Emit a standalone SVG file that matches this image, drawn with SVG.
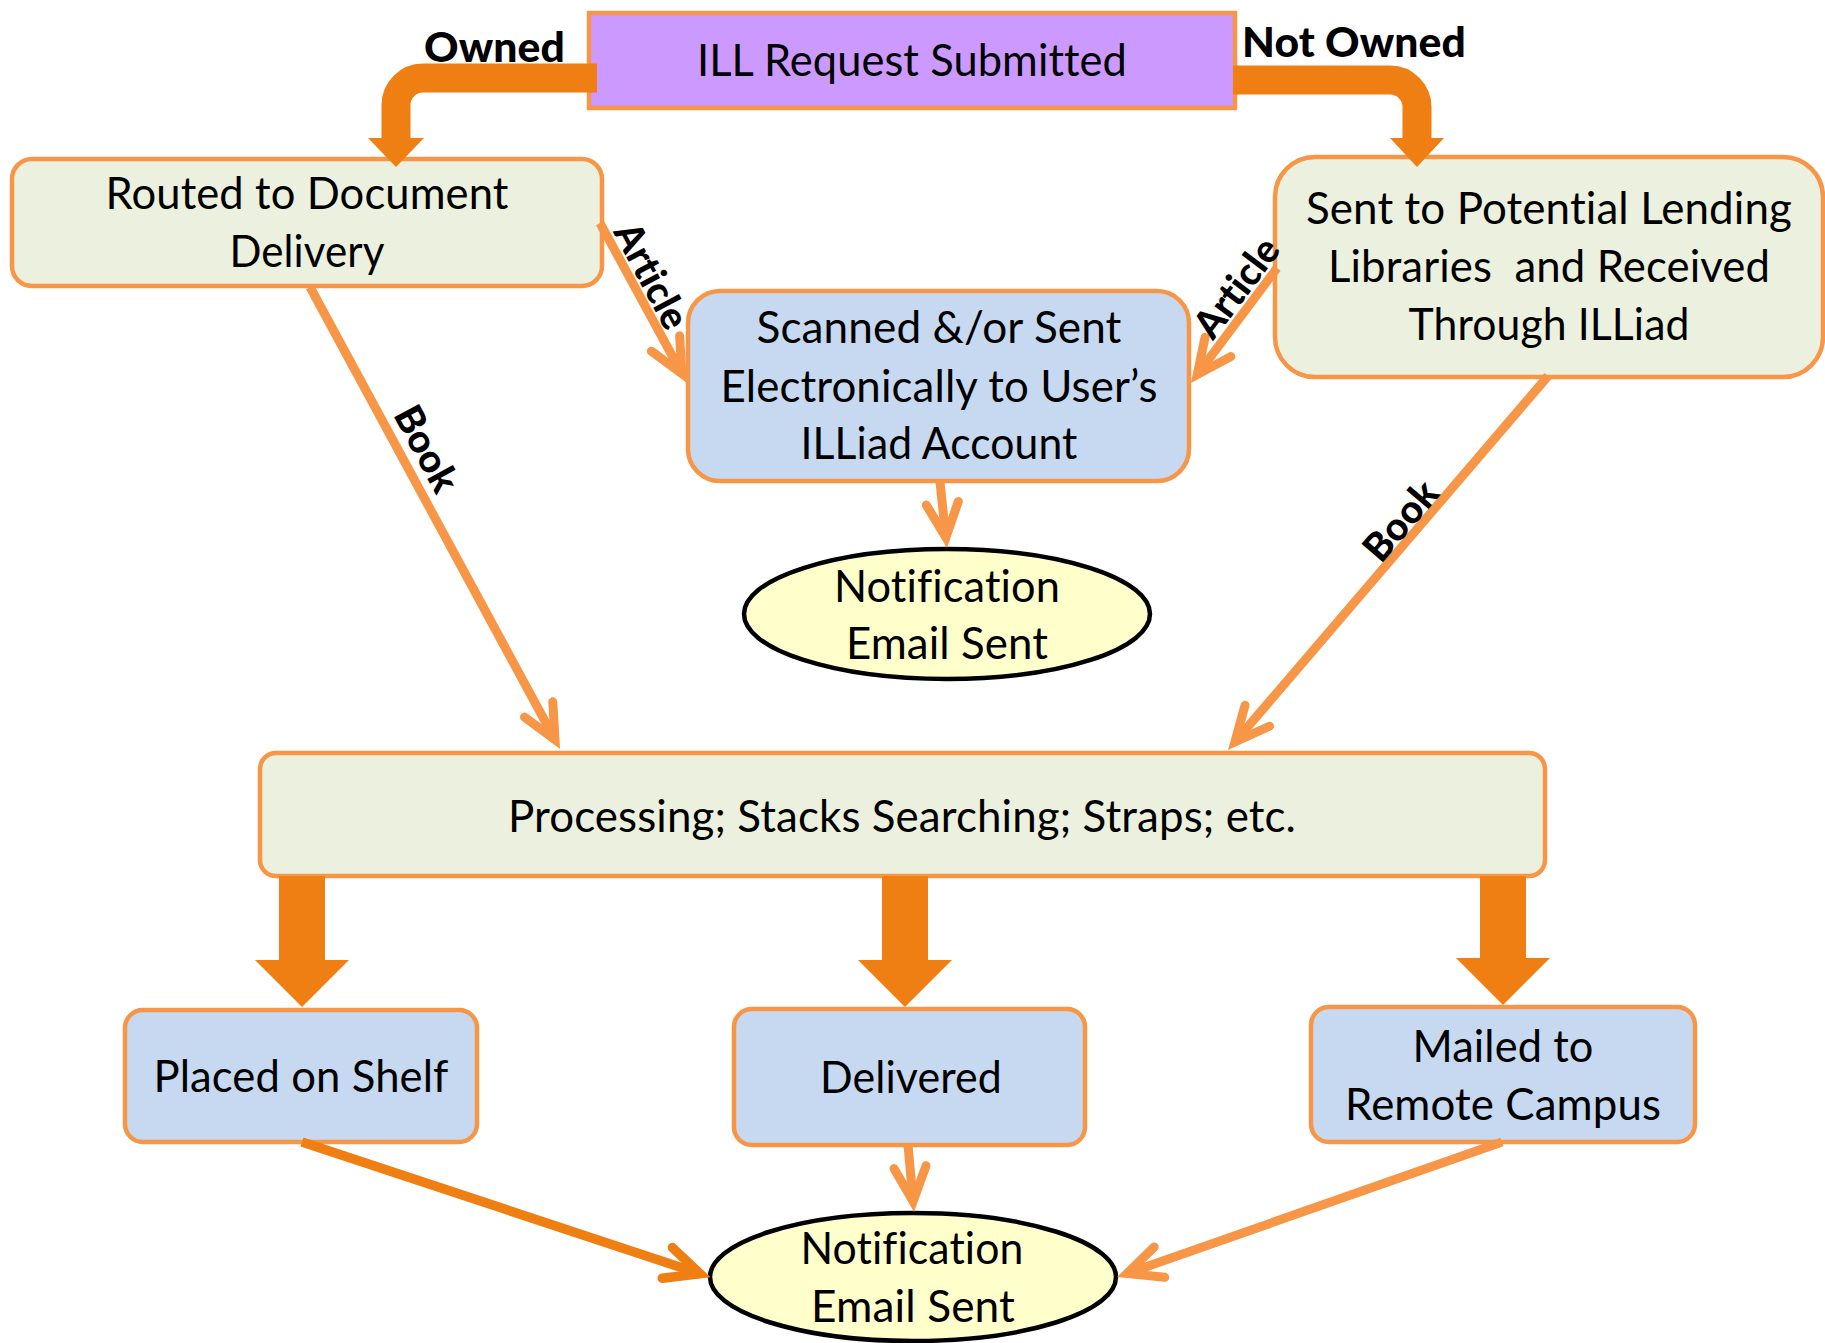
<svg xmlns="http://www.w3.org/2000/svg" width="1825" height="1343" viewBox="0 0 1825 1343">
  <style>
    .box { stroke: #F79646; stroke-width: 4.5; }
    .green { fill: #EBF1DE; }
    .blue { fill: #C6D9F1; }
    .purple { fill: #CC99FF; }
    .oval { fill: #FFFFCC; stroke: #000000; stroke-width: 4.5; }
    text { font-variant-ligatures: none; font-feature-settings: "liga" 0, "clig" 0, "dlig" 0, "calt" 0; letter-spacing: 0.1px; }
    .t { font-family: Lato, "Open Sans", "Liberation Sans", sans-serif; font-size: 44px; fill: #000000; text-anchor: middle; }
    .lbl { font-family: Lato, "Open Sans", "Liberation Sans", sans-serif; font-weight: 900; fill: #000000; }
    .thin { fill: none; stroke: #F79646; stroke-width: 9; stroke-linecap: butt; marker-end: url(#chev); }
    .thinDark { fill: none; stroke: #EF7F12; stroke-width: 9.5; stroke-linecap: butt; marker-end: url(#chevDark); }
    .fat { fill: none; stroke: #EF7F12; stroke-width: 29; stroke-linecap: butt; }
    .head { fill: #EF7F12; }
  </style>
  <defs>
    <marker id="chev" markerUnits="userSpaceOnUse" orient="auto" refX="0" refY="0" markerWidth="80" markerHeight="80" overflow="visible">
      <path d="M -34.4,-16.1 L 0,0 L -34.4,16.1" fill="none" stroke="#F79646" stroke-width="9" stroke-linecap="round" stroke-linejoin="miter"/>
    </marker>
    <marker id="chevDark" markerUnits="userSpaceOnUse" orient="auto" refX="0" refY="0" markerWidth="80" markerHeight="80" overflow="visible">
      <path d="M -34.4,-16.1 L 0,0 L -34.4,16.1" fill="none" stroke="#EF7F12" stroke-width="9.5" stroke-linecap="round" stroke-linejoin="miter"/>
    </marker>
  </defs>

  <rect width="1825" height="1343" fill="#FFFFFF"/>

  <!-- nodes -->
  <g id="node-request">
    <rect class="box purple" x="589" y="13" width="646" height="95"/>
    <text class="t" x="912" y="76" textLength="430" lengthAdjust="spacingAndGlyphs">ILL Request Submitted</text>
  </g>

  <g id="node-docdelivery">
    <rect class="box green" x="12" y="159" width="590" height="127" rx="20"/>
    <text class="t" x="307" y="209" textLength="403" lengthAdjust="spacingAndGlyphs">Routed to Document</text>
    <text class="t" x="307" y="267" textLength="155" lengthAdjust="spacingAndGlyphs">Delivery</text>
  </g>

  <g id="node-lending">
    <rect class="box green" x="1275" y="157" width="548" height="220" rx="40"/>
    <text class="t" x="1549" y="224" textLength="486" lengthAdjust="spacingAndGlyphs">Sent to Potential Lending</text>
    <text class="t" x="1549" y="282" textLength="442" lengthAdjust="spacingAndGlyphs" xml:space="preserve">Libraries  and Received</text>
    <text class="t" x="1549" y="340" textLength="281" lengthAdjust="spacingAndGlyphs">Through ILLiad</text>
  </g>

  <g id="node-scanned">
    <rect class="box blue" x="688" y="291" width="501" height="190" rx="32"/>
    <text class="t" x="939" y="343" textLength="365" lengthAdjust="spacingAndGlyphs">Scanned &amp;/or Sent</text>
    <text class="t" x="939" y="402" textLength="437" lengthAdjust="spacingAndGlyphs">Electronically to User’s</text>
    <text class="t" x="939" y="459" textLength="277" lengthAdjust="spacingAndGlyphs">ILLiad Account</text>
  </g>

  <g id="node-email-1">
    <ellipse class="oval" cx="947" cy="614" rx="203" ry="65"/>
    <text class="t" x="947" y="602" textLength="226" lengthAdjust="spacingAndGlyphs">Notification</text>
    <text class="t" x="947" y="659" textLength="202" lengthAdjust="spacingAndGlyphs">Email Sent</text>
  </g>

  <g id="node-processing">
    <rect class="box green" x="260" y="753" width="1285" height="123" rx="16"/>
    <text class="t" x="902" y="832" textLength="788" lengthAdjust="spacingAndGlyphs">Processing; Stacks Searching; Straps; etc.</text>
  </g>

  <g id="node-shelf">
    <rect class="box blue" x="125" y="1010" width="352" height="132" rx="18"/>
    <text class="t" x="301" y="1092" textLength="295" lengthAdjust="spacingAndGlyphs">Placed on Shelf</text>
  </g>

  <g id="node-delivered">
    <rect class="box blue" x="734" y="1009" width="351" height="136" rx="18"/>
    <text class="t" x="911" y="1093" textLength="182" lengthAdjust="spacingAndGlyphs">Delivered</text>
  </g>

  <g id="node-mailed">
    <rect class="box blue" x="1311" y="1007" width="384" height="135" rx="18"/>
    <text class="t" x="1503" y="1062" textLength="181" lengthAdjust="spacingAndGlyphs">Mailed to</text>
    <text class="t" x="1503" y="1120" textLength="316" lengthAdjust="spacingAndGlyphs">Remote Campus</text>
  </g>

  <g id="node-email-2">
    <ellipse class="oval" cx="913" cy="1277" rx="203" ry="64"/>
    <text class="t" x="912" y="1264" textLength="223" lengthAdjust="spacingAndGlyphs">Notification</text>
    <text class="t" x="913" y="1322" textLength="204" lengthAdjust="spacingAndGlyphs">Email Sent</text>
  </g>

  <!-- connectors -->
  <g id="connectors">
    <!-- Owned / Not Owned bent block arrows -->
    <path class="fat" d="M 597,78 H 423 A 27 27 0 0 0 396 105 V 140"/>
    <polygon class="head" points="368,138 424,138 396,167"/>
    <path class="fat" d="M 1233,80 H 1390 A 27 27 0 0 1 1417 107 V 140"/>
    <polygon class="head" points="1390,138 1444,138 1417,167"/>

    <!-- Article branches -->
    <line class="thin" x1="600" y1="223" x2="681.9" y2="373.7"/>
    <line class="thin" x1="1277" y1="268" x2="1197.3" y2="374.5"/>

    <!-- Book branches -->
    <line class="thin" x1="310" y1="287" x2="555" y2="739.7"/>
    <line class="thin" x1="1548" y1="376" x2="1234.9" y2="741.9"/>

    <!-- scanned to email -->
    <line class="thin" x1="940" y1="482" x2="945.9" y2="537.5"/>

    <!-- processing to outcomes -->
    <polygon class="head" points="279,876 325,876 325,960 349,960 302,1007 255,960 279,960"/>
    <polygon class="head" points="882,876 928,876 928,960 952,960 905,1007 858,960 882,960"/>
    <polygon class="head" points="1480,876 1526,876 1526,958 1550,958 1503,1005 1456,958 1480,958"/>

    <!-- outcomes to email -->
    <line class="thinDark" x1="302" y1="1142" x2="700" y2="1273.7"/>
    <line class="thin" x1="908" y1="1145" x2="913.1" y2="1201.4"/>
    <line class="thin" x1="1502" y1="1142" x2="1127" y2="1273.5"/>

    <!-- branch labels -->
    <text class="lbl" x="424" y="62" font-size="41" textLength="141" lengthAdjust="spacingAndGlyphs">Owned</text>
    <text class="lbl" x="1242" y="57" font-size="41" textLength="224" lengthAdjust="spacingAndGlyphs">Not Owned</text>
    <text class="lbl" transform="translate(651,276) rotate(62)" x="0" y="13" font-size="39" text-anchor="middle" textLength="114" lengthAdjust="spacingAndGlyphs">Article</text>
    <text class="lbl" transform="translate(1237,288) rotate(-53)" x="0" y="13" font-size="39" text-anchor="middle" textLength="114" lengthAdjust="spacingAndGlyphs">Article</text>
    <text class="lbl" transform="translate(426,449) rotate(61.6)" x="0" y="13" font-size="39" text-anchor="middle" textLength="92" lengthAdjust="spacingAndGlyphs">Book</text>
    <text class="lbl" transform="translate(1401,521) rotate(-49.4)" x="0" y="13" font-size="39" text-anchor="middle" textLength="92" lengthAdjust="spacingAndGlyphs">Book</text>
  </g>
</svg>
